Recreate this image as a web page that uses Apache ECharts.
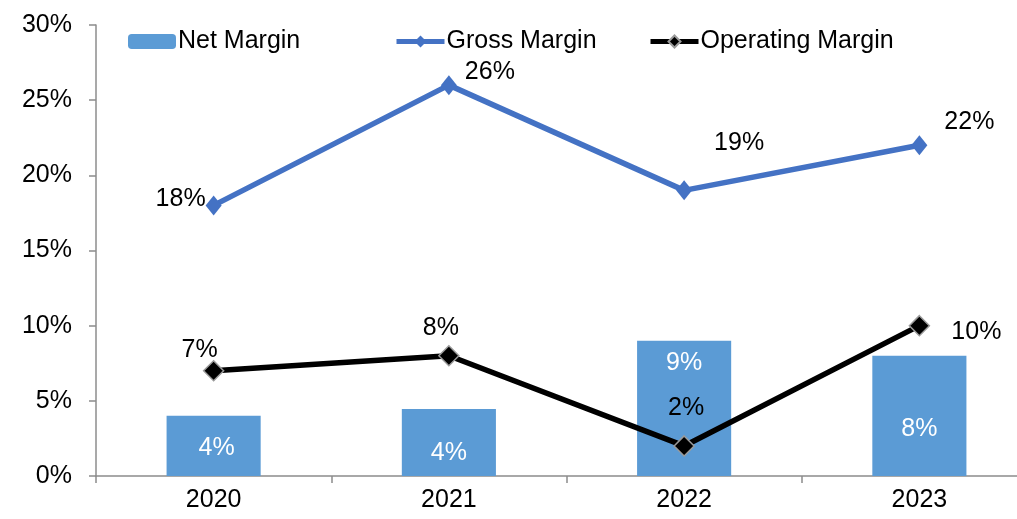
<!DOCTYPE html>
<html>
<head>
<meta charset="utf-8">
<script src="https://cdn.jsdelivr.net/npm/echarts@6/dist/echarts.min.js"></script>
<style>
  html, body { margin: 0; padding: 0; background: #fff; overflow: hidden; }
  #chart { width: 1040px; height: 519px; }
</style>
</head>
<body>
<div id="chart"></div>
<script>
// values (percent)
var years = ['2020', '2021', '2022', '2023'];
var netMargin = [4.0, 4.45, 9.0, 8.0];
var grossMargin = [18.0, 26.0, 19.0, 22.0];
var operatingMargin = [7.0, 8.0, 2.0, 10.0];

var FONT = 'Liberation Sans, Arial, sans-serif';
var FS = 25;
var AXIS_GRAY = '#8c8c8c';

// label nudges, one per year (kept apart from the values)
var netLabelShift = [[3, 2], [0, 11], [0, -45], [0, 13]];
var grossLabelShift = [[-33, -6], [41, -13], [55, -47], [50, -23]];
var opLabelShift = [[-14, -21], [-8, -28], [2, -38], [57, 6]];

function pct(p) { return Math.round(p.value) + '%'; }

function withShift(values, shifts) {
    return values.map(function (v, i) {
        return { value: v, label: { offset: shifts[i] } };
    });
}

function legendAt(x, name) {
    return {
        left: x, top: 24,
        data: [name],
        itemWidth: 48, itemHeight: 15,
        itemGap: 4,
        lineStyle: { width: 5 },
        textStyle: { fontFamily: FONT, fontSize: FS, color: '#000', padding: [0, 0, 0, -3] }
    };
}

// the plot runs past the right edge of the window, like the original
var chart = echarts.init(document.getElementById('chart'));

var option = {
    animation: false,
    backgroundColor: '#fff',
    textStyle: { fontFamily: FONT },
    legend: [
        legendAt(123, 'Net Margin'),
        legendAt(389, 'Gross Margin'),
        legendAt(643, 'Operating Margin')
    ],
    grid: { left: 96, top: 25, width: 941, height: 451 },
    xAxis: {
        type: 'category',
        data: years,
        boundaryGap: true,
        axisLine: { lineStyle: { color: AXIS_GRAY, width: 1.5 } },
        axisTick: { show: true, length: 7, lineStyle: { color: AXIS_GRAY, width: 1.5 } },
        axisLabel: { fontFamily: FONT, fontSize: FS, color: '#000', margin: 12 }
    },
    yAxis: {
        type: 'value',
        min: 0, max: 30, interval: 5,
        axisLine: { show: true, lineStyle: { color: AXIS_GRAY, width: 1.5 } },
        axisTick: { show: true, length: 7, lineStyle: { color: AXIS_GRAY, width: 1.5 } },
        splitLine: { show: false },
        axisLabel: { fontFamily: FONT, fontSize: FS, color: '#000', margin: 24, formatter: '{value}%' }
    },
    series: [
        {
            name: 'Net Margin',
            type: 'bar',
            barWidth: '40%',
            itemStyle: { color: '#5b9bd5' },
            data: withShift(netMargin, netLabelShift),
            label: {
                show: true, position: 'inside',
                fontFamily: FONT, fontSize: FS, color: '#fff',
                formatter: pct
            },
            z: 1
        },
        {
            name: 'Gross Margin',
            type: 'line',
            data: withShift(grossMargin, grossLabelShift),
            symbol: 'diamond',
            symbolSize: [16, 20],
            lineStyle: { color: '#4472c4', width: 5.5 },
            itemStyle: { color: '#4472c4' },
            label: {
                show: true, position: 'inside',
                fontFamily: FONT, fontSize: FS, color: '#000',
                formatter: pct
            },
            z: 3
        },
        {
            name: 'Operating Margin',
            type: 'line',
            data: withShift(operatingMargin, opLabelShift),
            symbol: 'diamond',
            symbolSize: [20, 20],
            lineStyle: { color: '#000', width: 5.5 },
            itemStyle: { color: '#000', borderColor: '#9a9a9a', borderWidth: 1.5 },
            label: {
                show: true, position: 'inside',
                fontFamily: FONT, fontSize: FS, color: '#000',
                formatter: pct
            },
            z: 4
        }
    ]
};

chart.setOption(option);
</script>
</body>
</html>
